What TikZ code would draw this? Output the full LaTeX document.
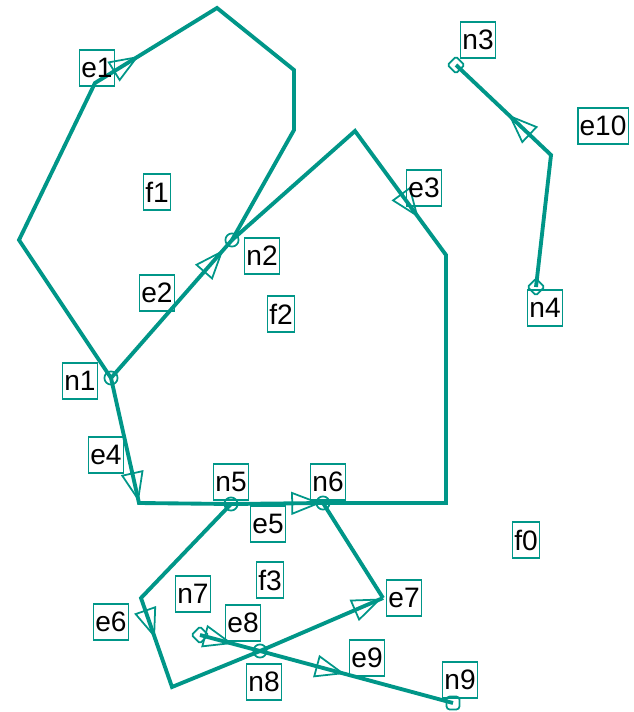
\documentclass[tikz,border=0pt]{standalone}
\usepackage{fontspec}
\setmainfont{Liberation Sans}
\setsansfont{Liberation Sans}
\usetikzlibrary{arrows.meta, decorations.markings, shapes.geometric}
\definecolor{cteal}{HTML}{009688}
\tikzset{
  every picture/.style={font=\sffamily, line width=2.2pt},
  edge/.style={draw=cteal, line join=miter},
  vert/.style={draw=cteal, line width=1pt, circle, inner sep=0pt, minimum size=7.5pt},
  vdiam/.style={draw=cteal, line width=1pt, diamond, inner sep=0pt, minimum size=10pt, rounded corners=1pt},
  lbl/.style={draw=cteal, line width=0.8pt, inner xsep=1pt, inner ysep=0pt, minimum height=20.5pt, font=\sffamily\fontsize{16}{18}\selectfont},
  tri at/.style={postaction={decorate, decoration={markings, mark=at position #1 with {\arrow[cteal, line width=1pt]{Triangle[open, length=17pt, width=13pt]}}}}},
}
\begin{document}
\begin{tikzpicture}[x=0.02cm, y=-0.02cm]
  \useasboundingbox (0,0) rectangle (633,712);
  % vertices
  \foreach \n/\x/\y in {n1/111/378, n2/232/240, n5/231/504, n6/323/503, n8/260/651} {
    \node[vert] (\n) at (\x,\y) {};
  }
  \foreach \n/\x/\y in {n3/456/65, n4/536/287, n7/200/635} {
    \node[vdiam] (\n) at (\x,\y) {};
  }
  \node[vert, rectangle, rounded corners=2pt, minimum size=7.5pt] (n9) at (453,703) {};
  % bends
  \coordinate (p1) at (19,240);
  \coordinate (p2) at (95,83);
  \coordinate (p3) at (217,8);
  \coordinate (p4) at (294,70);
  \coordinate (p5) at (294,130);
  \coordinate (p6) at (355,131);
  \coordinate (p7) at (446,255);
  \coordinate (p8) at (446,503);
  \coordinate (p9) at (139,503);
  \coordinate (p10) at (141,598);
  \coordinate (p11) at (172,687);
  \coordinate (p12) at (383,598);
  \coordinate (p13) at (551,155);
  % edges
  \draw[edge] (n1.center) -- (p1) -- (p2) -- (p3) -- (p4) -- (p5) -- (n2.center);
  \path[tri at=0.36] (p2) -- (p3);
  \draw[edge, tri at=0.93] (n1.center) -- (n2.center);
  \draw[edge] (n2.center) -- (p6) -- (p7) -- (p8) -- (n6.center);
  \path[tri at=0.7] (p6) -- (p7);
  \draw[edge] (n1.center) -- (p9) -- (n5.center);
  \path[tri at=0.99] (n1.center) -- (p9);
  \draw[edge, tri at=0.98] (n5.center) -- (n6.center);
  \draw[edge] (n5.center) -- (p10) -- (p11) -- (n8.center);
  \path[tri at=0.45] (p10) -- (p11);
  \draw[edge, tri at=0.99] (n8.center) -- (p12);
  \draw[edge] (p12) -- (n6.center);
  \draw[edge, tri at=0.55] (n7.center) -- (n8.center);
  \draw[edge, tri at=0.44] (n8.center) -- (n9.center);
  \draw[edge] (n4.center) -- (p13) -- (n3.center);
  \path[tri at=0.45] (p13) -- (n3.center);
  % labels
  \foreach \t/\x/\y in {e1/97/68, f1/157/192, n2/262/256, e2/157/293, f2/281/314, e3/424/188,
      n1/80/381, e4/106/455, n5/231/482, n6/328/482, e5/268/524, f0/526/540, n3/478/40,
      e10/603/126, n4/545/308, f3/270/580, n7/193/594, e6/111/622, e7/404/598, e8/243/623,
      e9/367/658, n8/264/682, n9/460/680} {
    \node[lbl] (l\t) at (\x,\y) {\t};
  }
\end{tikzpicture}
\end{document}
